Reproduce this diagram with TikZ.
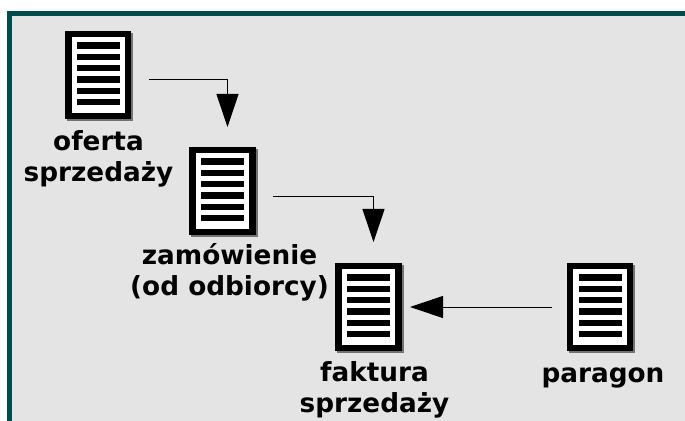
\documentclass[tikz,border=0pt]{standalone}
\usepackage{fontspec}
\setmainfont{DejaVu Sans}
\usetikzlibrary{arrows.meta}
\usetikzlibrary{shadows}
\definecolor{framecol}{HTML}{004D4D}
\definecolor{paneback}{HTML}{E4E4E4}
\tikzset{
  docbox/.style={draw=black, fill=white, line width=.1625cm, minimum width=1.4875cm,
    minimum height=2.0375cm, inner sep=0pt,
    drop shadow={shadow xshift=.05cm, shadow yshift=-.05cm, draw=black!55, fill=black!55, opacity=1}},
  doclabel/.style={font=\fontsize{18.7}{22}\selectfont\bfseries, align=center, inner sep=0pt},
  flow/.style={draw=black, line width=.025cm, -{Triangle[length=.825cm, width=.55cm]}}
}

\begin{document}
\begin{tikzpicture}[x=.025cm, y=-.025cm]
\useasboundingbox (0,0) rectangle (685,421);

\fill[paneback] (7,11) rectangle (685,421);
\fill[framecol] (7,11) rectangle (685,16);
\fill[framecol] (7,11) rectangle (11.5,421);

% documents with their six bars
\foreach \name/\x/\y in {oferta/98.4/75, zamowienie/222.5/191, faktura/368.5/307, paragon/600/307} {
    \node[docbox] (\name) at (\x,\y) {};
    \foreach \k in {0,...,5} {
        \fill[black] (\x-21.5,\y-32.7+\k*11.3) rectangle +(43,6.3);
    }
}

\node[doclabel] (ofertalabel) at (98.5,158.5) {oferta\\sprzedaży};
\node[doclabel] (zamowienielabel) at (229.5,272) {zamówienie\\(od odbiorcy)};
\node[doclabel] (fakturalabel) at (374.5,390) {faktura\\sprzedaży};
\node[doclabel] (paragonlabel) at (603,378) {paragon};

\coordinate (from1) at (149,79.5);
\coordinate (to1) at (227.5,127);
\coordinate (from2) at (273,196);
\coordinate (to2) at (373.5,242);
\coordinate (from3) at (551.7,307);
\coordinate (to3) at (410,307);

\draw[flow] (from1) -| (to1);
\draw[flow] (from2) -| (to2);
\draw[flow] (from3) -- (to3);
\end{tikzpicture}
\end{document}
